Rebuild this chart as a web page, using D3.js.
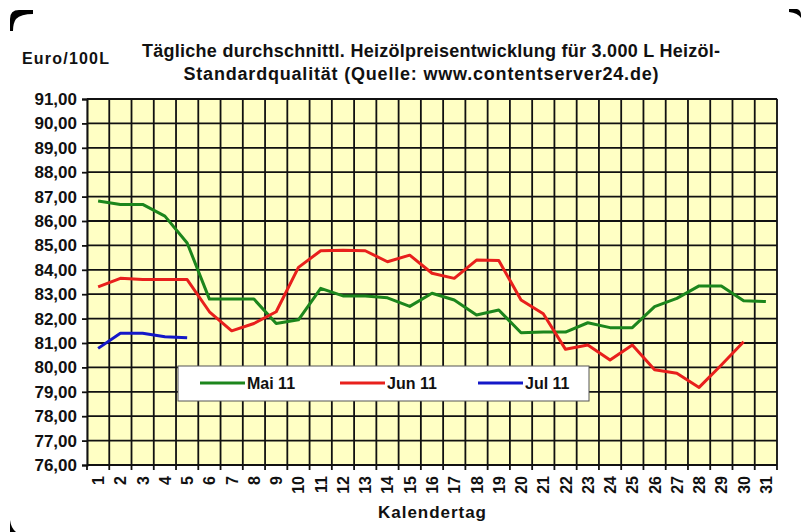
<!DOCTYPE html>
<html>
<head>
<meta charset="utf-8">
<script src="https://cdn.jsdelivr.net/npm/d3@7"></script>
<style>
  body { margin: 0; background: #fff; }
  svg text { font-family: "Liberation Sans", Arial, sans-serif; font-weight: bold; fill: #111; }
</style>
</head>
<body>
<div id="chart"></div>
<script>
// Kalendertage 1..31
var days = d3.range(1, 32);

var mai = [86.82, 86.68, 86.68, 86.2, 85.1, 82.8, 82.8, 82.8, 81.8, 81.95,
           83.24, 82.93, 82.93, 82.85, 82.5, 83.04, 82.76, 82.15, 82.35, 81.42,
           81.45, 81.45, 81.83, 81.63, 81.63, 82.49, 82.83, 83.34, 83.34, 82.73, 82.7];
var jun = [83.3, 83.65, 83.6, 83.6, 83.6, 82.28, 81.5, 81.8, 82.28, 84.1,
           84.78, 84.8, 84.78, 84.33, 84.6, 83.86, 83.65, 84.4, 84.38, 82.76,
           82.2, 80.74, 80.92, 80.3, 80.92, 79.9, 79.76, 79.18, 80.1, 81.05];
var jul = [80.78, 81.4, 81.4, 81.26, 81.22];

var seriesNames = ['Mai 11', 'Jun 11', 'Jul 11'];
var seriesColors = ['#1c861c', '#e8201c', '#1418c8'];
var yTicks = d3.range(76, 92);

var width = 801, height = 532;
var svg = d3.select('#chart').append('svg')
  .attr('width', width)
  .attr('height', height);

var x = d3.scaleBand().domain(days).range([87, 777]).padding(0),
    y = d3.scaleLinear().domain([76, 91]).range([465, 99]);

var de = d3.formatLocale({decimal: ',', thousands: '.', grouping: [3], currency: ['', '€']});
var fmt = de.format('.2f');

// corner marks
svg.append('path')
  .attr('d', 'M10,31 L10,19 Q10,10 19,10 L33,10 L33,14 Q21,14 16,19 Q13,23 13,31 Z')
  .attr('fill', '#000');
svg.append('path')
  .attr('d', 'M789,9 L797,9 Q801,10 801,15 L801,18 Q798,13 789,12 Z')
  .attr('fill', '#000');
svg.append('path')
  .attr('d', 'M10,520 Q11,528 16,532 L10,532 Z')
  .attr('fill', '#000');

// plot background
svg.append('rect')
  .attr('x', 87).attr('y', 99)
  .attr('width', 690).attr('height', 366)
  .attr('fill', '#ffffc4')
  .attr('stroke', '#999').attr('stroke-width', 1);

// horizontal grid
svg.append('g').selectAll('line')
  .data(yTicks.slice(1))
  .enter().append('line')
  .attr('x1', 87).attr('x2', 777)
  .attr('y1', function(d) { return y(d); })
  .attr('y2', function(d) { return y(d); })
  .attr('stroke', '#111').attr('stroke-width', 1.8);

// vertical grid at band edges
var edges = days.map(function(d) { return x(d); }).concat([x(31) + x.bandwidth()]);
svg.append('g').selectAll('line')
  .data(edges.slice(1))
  .enter().append('line')
  .attr('x1', function(d) { return d; })
  .attr('x2', function(d) { return d; })
  .attr('y1', 99).attr('y2', 470)
  .attr('stroke', '#111').attr('stroke-width', 1.8);

// y axis
var yAxis = svg.append('g')
  .attr('transform', 'translate(87,0)')
  .call(d3.axisLeft(y).tickValues(yTicks).tickFormat(fmt).tickSize(5).tickPadding(5));
yAxis.select('.domain').attr('stroke', '#111').attr('stroke-width', 2);
yAxis.selectAll('.tick line').attr('stroke', '#111').attr('stroke-width', 1.8);
yAxis.selectAll('text').attr('font-size', 17).attr('fill', '#111')
  .attr('font-family', '"Liberation Sans", Arial, sans-serif').attr('font-weight', 'bold');

// x axis line
svg.append('line')
  .attr('x1', 87).attr('x2', 777).attr('y1', 465).attr('y2', 465)
  .attr('stroke', '#111').attr('stroke-width', 2);
svg.append('line')
  .attr('x1', 87).attr('x2', 87).attr('y1', 465).attr('y2', 470)
  .attr('stroke', '#111').attr('stroke-width', 1.8);

// x labels, rotated
svg.append('g').selectAll('text')
  .data(days)
  .enter().append('text')
  .attr('transform', function(d) {
    return 'translate(' + (x(d) + x.bandwidth() / 2 + 6) + ',476) rotate(-90)';
  })
  .attr('text-anchor', 'end')
  .attr('font-size', 16)
  .text(function(d) { return d; });

// lines
var line = d3.line()
  .x(function(d, i) { return x(days[i]) + x.bandwidth() / 2; })
  .y(function(d) { return y(d); });

[mai, jun, jul].forEach(function(s, i) {
  svg.append('path')
    .datum(s)
    .attr('fill', 'none')
    .attr('stroke', seriesColors[i])
    .attr('stroke-width', 3)
    .attr('stroke-linejoin', 'round')
    .attr('d', line);
});

// legend
var lg = svg.append('g');
lg.append('rect')
  .attr('x', 178).attr('y', 366)
  .attr('width', 411).attr('height', 35)
  .attr('fill', '#fff')
  .attr('stroke', '#555').attr('stroke-width', 1);
var legX = [200, 340, 478];
seriesNames.forEach(function(n, i) {
  lg.append('line')
    .attr('x1', legX[i]).attr('x2', legX[i] + 45)
    .attr('y1', 383).attr('y2', 383)
    .attr('stroke', seriesColors[i]).attr('stroke-width', 3);
  lg.append('text')
    .attr('x', legX[i] + 47).attr('y', 389)
    .attr('font-size', 16)
    .text(n);
});

// titles
svg.append('text')
  .attr('x', 431).attr('y', 57)
  .attr('text-anchor', 'middle').attr('font-size', 18)
  .attr('textLength', 578).attr('lengthAdjust', 'spacing')
  .text('Tägliche durchschnittl. Heizölpreisentwicklung für 3.000 L Heizöl-');
svg.append('text')
  .attr('x', 421).attr('y', 80)
  .attr('text-anchor', 'middle').attr('font-size', 18)
  .attr('textLength', 475).attr('lengthAdjust', 'spacing')
  .text('Standardqualität (Quelle: www.contentserver24.de)');
svg.append('text')
  .attr('x', 22).attr('y', 64)
  .attr('font-size', 16)
  .attr('textLength', 87).attr('lengthAdjust', 'spacing')
  .text('Euro/100L');
svg.append('text')
  .attr('x', 432).attr('y', 518)
  .attr('text-anchor', 'middle').attr('font-size', 17)
  .attr('textLength', 108).attr('lengthAdjust', 'spacing')
  .text('Kalendertag');
</script>
</body>
</html>
